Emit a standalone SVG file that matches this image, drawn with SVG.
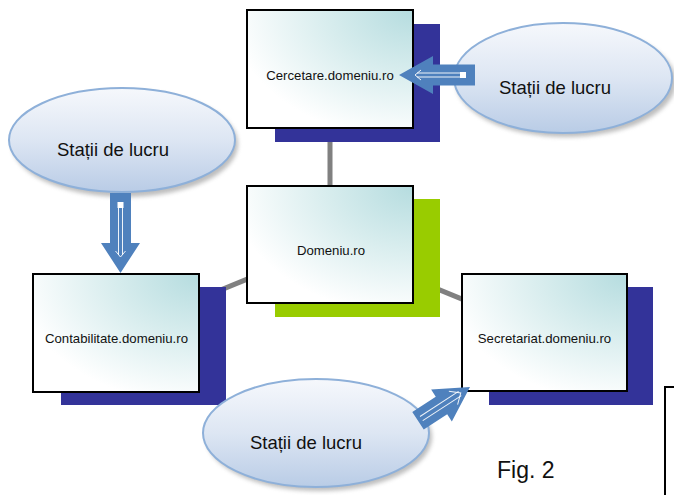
<svg xmlns="http://www.w3.org/2000/svg" width="674" height="495" viewBox="0 0 674 495">
<style>
  .conn{stroke:#808080;stroke-width:5;fill:none}
  .shadow-navy{fill:#333399}
  .shadow-green{fill:#99CC00}
  .box{fill:url(#boxGrad);stroke:#000;stroke-width:2}
  .blabel{font-family:"Liberation Sans",Arial,sans-serif;font-size:13.2px;fill:#111;text-anchor:middle}
  .ell{fill:url(#ellGrad);stroke:#8EB0D9;stroke-width:2}
  .eshadow{fill:#888;opacity:0.55;filter:url(#blur)}
  .elabel{font-family:"Liberation Sans",Arial,sans-serif;font-size:18.5px;fill:#111;text-anchor:middle}
  .arrow{fill:#4F81BD}
  .aline{stroke:#fff;stroke-width:1;fill:none;opacity:0.9}
  .adot{fill:#fff}
  .fig{font-family:"Liberation Sans",Arial,sans-serif;font-size:23px;fill:#111}
</style>
<defs>
  <radialGradient id="boxGrad" cx="1" cy="0" r="1.1">
    <stop offset="0" stop-color="#B5DCDF"/>
    <stop offset="0.45" stop-color="#D6ECED"/>
    <stop offset="1" stop-color="#FFFFFF"/>
  </radialGradient>
  <linearGradient id="ellGrad" x1="0" y1="0" x2="0" y2="1">
    <stop offset="0" stop-color="#F6F8FC"/>
    <stop offset="0.5" stop-color="#DDE6F3"/>
    <stop offset="1" stop-color="#B9CCE6"/>
  </linearGradient>
  <filter id="blur" x="-20%" y="-20%" width="140%" height="140%">
    <feGaussianBlur stdDeviation="2"/>
  </filter>
</defs>
<rect width="674" height="495" fill="#fff"/>

<g id="connectors">
  <line class="conn" x1="330" y1="69" x2="330" y2="245"/>
  <line class="conn" x1="116" y1="333" x2="330" y2="245"/>
  <line class="conn" x1="330" y1="245" x2="545" y2="333"/>
</g>

<g id="cercetare">
  <rect class="shadow-navy" x="275" y="24" width="165" height="118"/>
  <rect class="box" x="247" y="10" width="166" height="118"/>
  <text class="blabel" x="330" y="80">Cercetare.domeniu.ro</text>
</g>

<g id="domeniu">
  <rect class="shadow-green" x="275" y="199" width="165" height="118"/>
  <rect class="box" x="247" y="186" width="166" height="117"/>
  <text class="blabel" x="331" y="255">Domeniu.ro</text>
</g>

<g id="contabilitate">
  <rect class="shadow-navy" x="61" y="287" width="165" height="118"/>
  <rect class="box" x="33" y="274" width="166" height="118"/>
  <text class="blabel" x="116.5" y="343">Contabilitate.domeniu.ro</text>
</g>

<g id="secretariat">
  <rect class="shadow-navy" x="489" y="287" width="164" height="118"/>
  <rect class="box" x="462" y="274" width="165" height="117"/>
  <text class="blabel" x="544.5" y="343">Secretariat.domeniu.ro</text>
</g>

<g id="statii-top">
  <ellipse class="eshadow" cx="566" cy="82" rx="110" ry="55"/>
  <ellipse class="ell" cx="563" cy="78" rx="109" ry="55"/>
  <text class="elabel" x="555" y="94">Stații de lucru</text>
</g>

<g id="statii-left">
  <ellipse class="eshadow" cx="125" cy="144" rx="113" ry="53"/>
  <ellipse class="ell" cx="122" cy="140" rx="113" ry="52"/>
  <text class="elabel" x="113" y="156">Stații de lucru</text>
</g>

<g id="statii-bottom">
  <ellipse class="eshadow" cx="319" cy="437" rx="113" ry="54"/>
  <ellipse class="ell" cx="316" cy="433" rx="113" ry="54"/>
  <text class="elabel" x="306" y="449">Stații de lucru</text>
</g>

<g id="arrows">
  <!-- top arrow: pointing left -->
  <g transform="translate(399,75) rotate(180)">
    <path class="arrow" d="M0,0 L-34,-19 L-34,-10.5 L-76,-10.5 L-76,10.5 L-34,10.5 L-34,19 Z"/>
    <line class="aline" x1="-64" y1="-2" x2="-18" y2="-2"/>
    <line class="aline" x1="-64" y1="2" x2="-18" y2="2"/>
    <path class="aline" d="M-22,-5 L-16,0 L-22,5" stroke-width="1.5"/>
    <rect class="adot" x="-67" y="-3" width="6" height="6"/>
  </g>
  <!-- left arrow: pointing down -->
  <g transform="translate(120.5,273) rotate(90)">
    <path class="arrow" d="M0,0 L-30,-19.5 L-30,-10.5 L-80,-10.5 L-80,10.5 L-30,10.5 L-30,19.5 Z"/>
    <line class="aline" x1="-68" y1="-2" x2="-18" y2="-2"/>
    <line class="aline" x1="-68" y1="2" x2="-18" y2="2"/>
    <path class="aline" d="M-22,-5 L-16,0 L-22,5" stroke-width="1.5"/>
    <rect class="adot" x="-71" y="-3" width="6" height="6"/>
  </g>
  <!-- bottom arrow: pointing up-right -->
  <g transform="translate(470,387) rotate(-33)">
    <path class="arrow" d="M0,0 L-34,-19 L-34,-10.5 L-62,-10.5 L-62,10.5 L-34,10.5 L-34,19 Z"/>
    <line class="aline" x1="-58" y1="-2.5" x2="-12" y2="-2.5" stroke-width="1.5"/>
    <line class="aline" x1="-58" y1="2.5" x2="-12" y2="2.5" stroke-width="1.5"/>
    <path class="aline" d="M-20,-8 L-11,0 L-20,8" stroke-width="1.8"/>
  </g>
</g>

<rect x="665" y="387" width="30" height="120" fill="none" stroke="#000" stroke-width="2"/>
<text class="fig" x="497" y="478">Fig. 2</text>
</svg>
